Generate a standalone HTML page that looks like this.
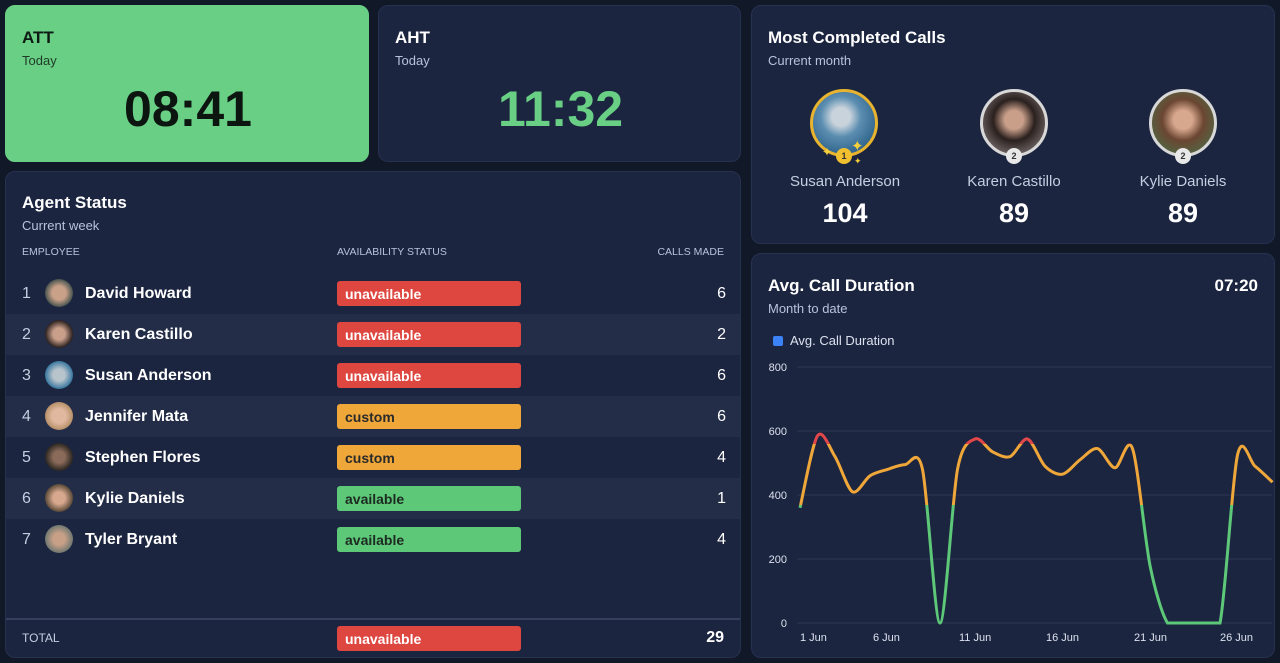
<!DOCTYPE html>
<html><head><meta charset="utf-8"><style>
*{box-sizing:border-box;margin:0;padding:0}
body{width:1280px;height:663px;background:#111827;font-family:"Liberation Sans",sans-serif;color:#fff;position:relative;overflow:hidden}
.card{position:absolute;background:#1c2540;border-radius:10px;border:1px solid #263150}
.t{position:absolute;font-size:17px;font-weight:bold}
.s{position:absolute;font-size:13px;color:#b8c2dc}
.ab{position:absolute}
.row{position:absolute;left:0;width:736px;height:41px}
.row.alt{background:#232d48}
.num{position:absolute;left:16px;top:12px;font-size:16px;color:#c5cde0}
.av{position:absolute;left:39px;top:6px;width:28px;height:28px;border-radius:50%}
.nm{position:absolute;left:79px;top:12px;font-size:16px;font-weight:bold}
.badge{position:absolute;left:331px;top:8px;width:184px;height:25px;border-radius:3px;font-size:14px;font-weight:bold;padding:5px 8px}
.red{background:#de4640;color:#fff}.org{background:#f0a73a;color:#2a2a2a}.grn{background:#5cc878;color:#1d2a22}
.cm{position:absolute;right:16px;top:12px;font-size:16px}
.hd{position:absolute;font-size:10.5px;color:#b8c2dc}
.tp{position:absolute;text-align:center;width:160px}
.ring{position:absolute;border-radius:50%}
</style></head><body>
<div class="card" style="left:5px;top:5px;width:364px;height:157px;background:#68cf85;border-color:#68cf85">
<div class="t" style="left:16px;top:22px;color:#0d1a12">ATT</div><div class="s" style="left:16px;top:47px;color:#1f3a27">Today</div>
<div class="ab" style="left:0;width:364px;text-align:center;top:74px;font-size:50px;font-weight:bold;color:#0c1510">08:41</div></div>
<div class="card" style="left:378px;top:5px;width:363px;height:157px">
<div class="t" style="left:16px;top:22px">AHT</div><div class="s" style="left:16px;top:47px">Today</div>
<div class="ab" style="left:0;width:363px;text-align:center;top:74px;font-size:50px;font-weight:bold;color:#68cf85">11:32</div></div>

<div class="card" style="left:751px;top:5px;width:524px;height:239px">
<div class="t" style="left:16px;top:22px">Most Completed Calls</div><div class="s" style="left:16px;top:47px">Current month</div>
<div class="ring" style="left:58px;top:83px;width:68px;height:68px;border:3px solid #e8b32e;background:radial-gradient(circle at 45% 40%,#c9d3dc 0 18%,#5a8db0 40%,#2b5f86 80%)"></div>
<div class="ring" style="left:84px;top:142px;width:16px;height:16px;background:#f0c030;color:#333;font-size:9px;text-align:center;line-height:16px;font-weight:bold">1</div>
<div class="ab" style="left:70px;top:139px;color:#f5cf3c;font-size:12px">✦</div><div class="ab" style="left:99px;top:131px;color:#f5cf3c;font-size:15px">✦</div><div class="ab" style="left:102px;top:150px;color:#f5cf3c;font-size:9px">✦</div>
<div class="ring" style="left:228px;top:83px;width:68px;height:68px;border:3px solid #d8d8d8;background:radial-gradient(circle at 50% 45%,#c99f8a 0 20%,#2a201e 45%,#8a8080 90%)"></div>
<div class="ring" style="left:254px;top:142px;width:16px;height:16px;background:#e8e8e8;color:#333;font-size:9px;text-align:center;line-height:16px;font-weight:bold">2</div>
<div class="ring" style="left:397px;top:83px;width:68px;height:68px;border:3px solid #d8d8d8;background:radial-gradient(circle at 50% 45%,#d8a88e 0 20%,#6b4632 45%,#4d6b45 85%)"></div>
<div class="ring" style="left:423px;top:142px;width:16px;height:16px;background:#e8e8e8;color:#333;font-size:9px;text-align:center;line-height:16px;font-weight:bold">2</div>
<div class="tp" style="left:13px;top:167px;font-size:15px;color:#c5cde0">Susan Anderson</div>
<div class="tp" style="left:182px;top:167px;font-size:15px;color:#c5cde0">Karen Castillo</div>
<div class="tp" style="left:351px;top:167px;font-size:15px;color:#c5cde0">Kylie Daniels</div>
<div class="tp" style="left:13px;top:192px;font-size:27px;font-weight:bold">104</div>
<div class="tp" style="left:182px;top:192px;font-size:27px;font-weight:bold">89</div>
<div class="tp" style="left:351px;top:192px;font-size:27px;font-weight:bold">89</div>
</div>

<div class="card" style="left:5px;top:171px;width:736px;height:487px;overflow:hidden">
<div class="t" style="left:16px;top:21px">Agent Status</div><div class="s" style="left:16px;top:46px">Current week</div>
<div class="hd" style="left:16px;top:74px">EMPLOYEE</div><div class="hd" style="left:331px;top:74px">AVAILABILITY STATUS</div><div class="hd" style="right:16px;top:74px">CALLS MADE</div>
<div class="row" style="top:101px"><div class="num">1</div><div class="av" style="background:radial-gradient(circle,#c9a088 0 35%,#4a5550 70%)"></div><div class="nm">David Howard</div><div class="badge red">unavailable</div><div class="cm">6</div></div>
<div class="row alt" style="top:142px"><div class="num">2</div><div class="av" style="background:radial-gradient(circle,#c99f8a 0 30%,#2a201e 70%)"></div><div class="nm">Karen Castillo</div><div class="badge red">unavailable</div><div class="cm">2</div></div>
<div class="row" style="top:183px"><div class="num">3</div><div class="av" style="background:radial-gradient(circle,#b8c4cc 0 30%,#3a78a0 70%)"></div><div class="nm">Susan Anderson</div><div class="badge red">unavailable</div><div class="cm">6</div></div>
<div class="row alt" style="top:224px"><div class="num">4</div><div class="av" style="background:radial-gradient(circle,#e0b8a0 0 35%,#b08a60 75%)"></div><div class="nm">Jennifer Mata</div><div class="badge org">custom</div><div class="cm">6</div></div>
<div class="row" style="top:265px"><div class="num">5</div><div class="av" style="background:radial-gradient(circle,#8a6a58 0 30%,#2a2622 70%)"></div><div class="nm">Stephen Flores</div><div class="badge org">custom</div><div class="cm">4</div></div>
<div class="row alt" style="top:306px"><div class="num">6</div><div class="av" style="background:radial-gradient(circle,#d8a88e 0 30%,#5a4a38 70%)"></div><div class="nm">Kylie Daniels</div><div class="badge grn">available</div><div class="cm">1</div></div>
<div class="row" style="top:347px"><div class="num">7</div><div class="av" style="background:radial-gradient(circle,#c8a088 0 30%,#707870 70%)"></div><div class="nm">Tyler Bryant</div><div class="badge grn">available</div><div class="cm">4</div></div>
<div class="ab" style="left:0;top:446px;width:736px;height:2px;background:#34405e"></div>
<div class="ab" style="left:16px;top:459px;font-size:12px;color:#c5cde0">TOTAL</div>
<div class="badge red" style="top:454px">unavailable</div>
<div class="ab" style="right:16px;top:457px;font-size:16px;font-weight:bold">29</div>
</div>

<div class="card" style="left:751px;top:253px;width:524px;height:405px">
<div class="t" style="left:16px;top:22px">Avg. Call Duration</div><div class="s" style="left:16px;top:47px">Month to date</div>
<div class="t" style="right:16px;top:22px">07:20</div>
<div class="ab" style="left:21px;top:82px;width:10px;height:10px;background:#3b82f6;border-radius:2px"></div>
<div class="ab" style="left:38px;top:79px;font-size:13px;color:#dbe1ee">Avg. Call Duration</div>
</div>
<svg class="ab" style="left:0;top:0" width="1280" height="663">
<g stroke="#2c3654" stroke-width="1">
<line x1="797" x2="1272" y1="367" y2="367"/><line x1="797" x2="1272" y1="431" y2="431"/><line x1="797" x2="1272" y1="495" y2="495"/><line x1="797" x2="1272" y1="559" y2="559"/><line x1="797" x2="1272" y1="623" y2="623"/></g>
<g font-size="11" fill="#dbe1ee" font-family="Liberation Sans,sans-serif" text-anchor="end">
<text x="787" y="371">800</text><text x="787" y="435">600</text><text x="787" y="499">400</text><text x="787" y="563">200</text><text x="787" y="627">0</text></g>
<g font-size="11" fill="#dbe1ee" font-family="Liberation Sans,sans-serif">
<text x="800" y="641">1 Jun</text><text x="873" y="641">6 Jun</text><text x="959" y="641">11 Jun</text><text x="1046" y="641">16 Jun</text><text x="1134" y="641">21 Jun</text><text x="1220" y="641">26 Jun</text></g>
<defs>
<clipPath id="c1"><rect x="790" y="300" width="490" height="144"/></clipPath>
<clipPath id="c2"><rect x="790" y="444" width="490" height="61"/></clipPath>
<clipPath id="c3"><rect x="790" y="505" width="490" height="130"/></clipPath>
</defs>
<path id="p1" clip-path="url(#c1)" fill="none" stroke="#e2474a" stroke-width="3"/>
<path id="p2" clip-path="url(#c2)" fill="none" stroke="#f0a73a" stroke-width="3"/>
<path id="p3" clip-path="url(#c3)" fill="none" stroke="#5cc878" stroke-width="3"/>
</svg>
<script>
var v=[360,585,520,410,460,480,495,480,0,480,575,535,520,575,490,465,510,545,485,545,180,0,0,0,0,525,490,440];
var pts=v.map(function(y,i){return[800+i*17.5,623-y*0.32]});
var d="M"+pts[0][0]+","+pts[0][1];
for(var i=0;i<pts.length-1;i++){var p0=pts[Math.max(0,i-1)],p1=pts[i],p2=pts[i+1],p3=pts[Math.min(pts.length-1,i+2)];
var t=0.15;var c1x=p1[0]+(p2[0]-p0[0])*t,c1y=p1[1]+(p2[1]-p0[1])*t,c2x=p2[0]-(p3[0]-p1[0])*t,c2y=p2[1]-(p3[1]-p1[1])*t;
c1y=Math.min(c1y,623);c2y=Math.min(c2y,623);
d+=" C"+c1x+","+c1y+" "+c2x+","+c2y+" "+p2[0]+","+p2[1];}
["p1","p2","p3"].forEach(function(id){document.getElementById(id).setAttribute("d",d)});
</script>
</body></html>
